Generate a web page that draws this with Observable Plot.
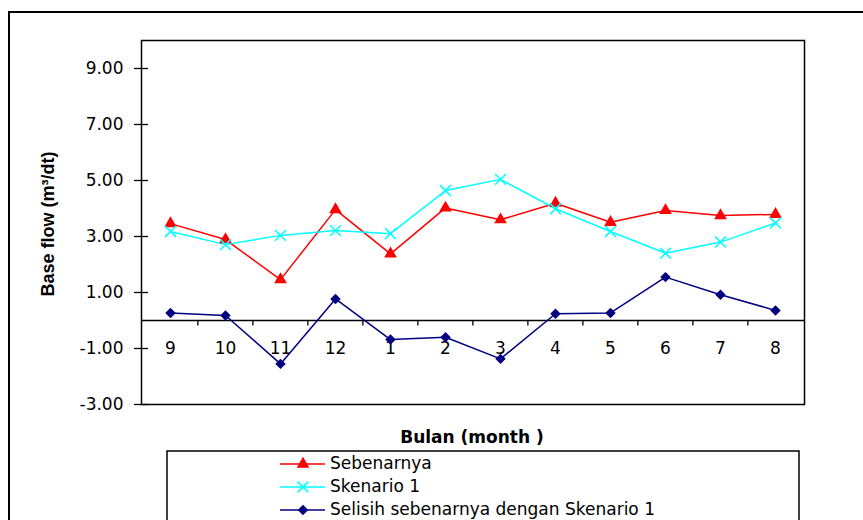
<!DOCTYPE html>
<html>
<head>
<meta charset="utf-8">
<script src="https://cdn.jsdelivr.net/npm/d3@7"></script>
<script src="https://cdn.jsdelivr.net/npm/@observablehq/plot@0.6"></script>
<style>
  html, body { margin: 0; padding: 0; background: white; }
</style>
</head>
<body>
<div id="chart"></div>
<script>
const months = ["9","10","11","12","1","2","3","4","5","6","7","8"];
const sebenarnya = [3.46, 2.89, 1.46, 3.96, 2.38, 4.02, 3.60, 4.19, 3.51, 3.93, 3.75, 3.79];
const skenario1  = [3.18, 2.71, 3.04, 3.21, 3.10, 4.64, 5.04, 3.99, 3.18, 2.40, 2.80, 3.48];
const selisih    = [0.27, 0.18, -1.55, 0.77, -0.68, -0.60, -1.37, 0.24, 0.27, 1.55, 0.92, 0.36];
const yTicks = [-3, -1, 1, 3, 5, 7, 9];
const seriesNames = ["Sebenarnya", "Skenario 1", "Selisih sebenarnya dengan Skenario 1"];
const seriesColors = ["#ff0000", "#00ffff", "#000080"];
const seriesSymbols = ["triangle", "times", "diamond2"];
const yLabel = "Base flow (m³/dt)";
const xLabel = "Bulan (month )";

const W = 863, H = 520;
const mL = 141, mR = 59, mT = 40, mB = 116;
const bw = (W - mL - mR) / months.length;

const seriesValues = [sebenarnya, skenario1, selisih];
const rows = [];
seriesValues.forEach((vals, s) => {
  vals.forEach((v, i) => rows.push({series: seriesNames[s], month: months[i], value: v}));
});
const bySeries = seriesNames.map(n => rows.filter(r => r.series === n));

const marks = [
  Plot.frame({stroke: "black", strokeWidth: 1.5}),
  Plot.ruleY([0], {stroke: "black", strokeWidth: 1.5}),
  Plot.ruleX(months.slice(1), {x: d => d, y1: 0, y2: -0.2, dx: -bw / 2, stroke: "black", strokeWidth: 1.3}),
  Plot.axisY({ticks: yTicks, tickFormat: d => d.toFixed(2), tickSize: 14, dx: 7, tickPadding: 11,
              stroke: "black", strokeWidth: 1.3, fontSize: 17, fill: "black", label: null}),
  Plot.text(months, {x: d => d, y: 0, dy: 28, text: d => d, fontSize: 17, fill: "black"})
];
const rSym = [4.7, 5, 4.7];
bySeries.forEach((data, s) => {
  marks.push(Plot.line(data, {x: "month", y: "value", stroke: seriesColors[s], strokeWidth: 1.5}));
});
bySeries.forEach((data, s) => {
  const sym = seriesSymbols[s];
  if (sym === "times") {
    marks.push(Plot.dot(data, {x: "month", y: "value", symbol: sym, r: rSym[s], stroke: seriesColors[s], strokeWidth: 1.6, fill: "none"}));
  } else {
    marks.push(Plot.dot(data, {x: "month", y: "value", symbol: sym, r: rSym[s], fill: seriesColors[s], stroke: "none"}));
  }
});

const svg = Plot.plot({
  width: W, height: H,
  marginLeft: mL, marginRight: mR, marginTop: mT, marginBottom: mB,
  style: {fontFamily: "'DejaVu Sans', sans-serif", fontSize: "17px", background: "white", color: "black"},
  x: {type: "point", domain: months, padding: 0.5, axis: null},
  y: {domain: [-3, 10], axis: null},
  marks
});
document.getElementById("chart").appendChild(svg);

const g = d3.select(svg).append("g");
// outer chart-area border
g.append("rect").attr("x", 9).attr("y", 12).attr("width", 900).attr("height", 600)
  .attr("fill", "none").attr("stroke", "black").attr("stroke-width", 2);
// y label
g.append("text").attr("transform", "translate(48,224) rotate(-90)")
  .attr("text-anchor", "middle").attr("dy", "0.35em")
  .style("font-family", "'Liberation Sans', Arial, sans-serif").style("font-weight", "bold").style("font-size", "18px")
  .text(yLabel);
// x label
g.append("text").attr("x", 472).attr("y", 443).attr("text-anchor", "middle")
  .style("font-family", "'DejaVu Sans', sans-serif").style("font-weight", "bold").style("font-size", "17px")
  .text(xLabel);
// legend
g.append("rect").attr("x", 167).attr("y", 451).attr("width", 632).attr("height", 100)
  .attr("fill", "white").attr("stroke", "black").attr("stroke-width", 1.5);
const legY = [464, 487, 510];
const d3Sym = {triangle: d3.symbolTriangle, times: d3.symbolTimes, diamond2: d3.symbolDiamond2};
seriesNames.forEach((name, s) => {
  const y = legY[s];
  g.append("line").attr("x1", 280).attr("x2", 325).attr("y1", y).attr("y2", y)
    .attr("stroke", seriesColors[s]).attr("stroke-width", 1.5);
  const p = d3.symbol(d3Sym[seriesSymbols[s]], Math.PI * rSym[s] * rSym[s])();
  const sp = g.append("path").attr("d", p).attr("transform", `translate(303,${y})`);
  if (seriesSymbols[s] === "times") sp.attr("fill", "none").attr("stroke", seriesColors[s]).attr("stroke-width", 1.6);
  else sp.attr("fill", seriesColors[s]).attr("stroke", "none");
  g.append("text").attr("x", 330).attr("y", y + 5).attr("text-anchor", "start")
    .style("font-family", "'DejaVu Sans', sans-serif").style("font-size", "17px")
    .text(name);
});
</script>
</body>
</html>
